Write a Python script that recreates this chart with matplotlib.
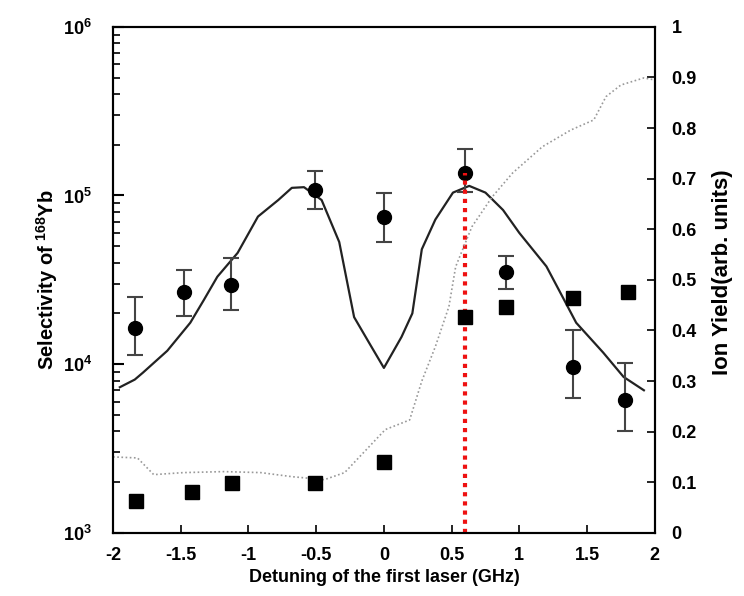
import numpy as np
import matplotlib
matplotlib.use("Agg")
import matplotlib.pyplot as plt
from matplotlib.ticker import FixedLocator, FuncFormatter, LogLocator, NullFormatter

plt.rcParams["font.family"] = ["Liberation Sans", "DejaVu Sans"]
plt.rcParams["font.weight"] = "bold"
plt.rcParams["mathtext.fontset"] = "custom"
plt.rcParams["mathtext.rm"] = "Liberation Sans:bold"
plt.rcParams["mathtext.bf"] = "Liberation Sans:bold"

# measured selectivity (circles, left axis)
sel_x = [-1.84, -1.48, -1.13, -0.51, 0.0, 0.6, 0.9, 1.4, 1.78]
sel_y = [1.64e4, 2.68e4, 2.95e4, 1.08e5, 7.5e4, 1.36e5, 3.5e4, 9.6e3, 6.1e3]
sel_hi = [2.5e4, 3.6e4, 4.27e4, 1.4e5, 1.03e5, 1.89e5, 4.4e4, 1.6e4, 1.02e4]
sel_lo = [1.13e4, 1.93e4, 2.1e4, 8.3e4, 5.3e4, 1.05e5, 2.8e4, 6.3e3, 4.0e3]

# calculated selectivity (solid line, left axis)
calc_x = [-1.95, -1.84, -1.78, -1.60, -1.43, -1.33, -1.23, -1.08, -0.93, -0.78,
          -0.68, -0.59, -0.46, -0.33, -0.22, -0.10, 0.0, 0.13, 0.21, 0.28,
          0.38, 0.51, 0.63, 0.75, 0.88, 1.0, 1.2, 1.32, 1.42, 1.62, 1.77, 1.92]
calc_y = [7.3e3, 8.1e3, 8.9e3, 1.2e4, 1.76e4, 2.4e4, 3.3e4, 4.57e4, 7.5e4, 9.4e4,
          1.11e5, 1.12e5, 9.4e4, 5.3e4, 1.9e4, 1.3e4, 9.5e3, 1.45e4, 2.0e4, 4.8e4,
          7.2e4, 1.04e5, 1.14e5, 1.04e5, 8.2e4, 6.0e4, 3.8e4, 2.5e4, 1.76e4, 1.17e4,
          8.4e3, 7.0e3]

# measured ion yield (squares, right axis)
ion_x = [-1.83, -1.42, -1.12, -0.51, 0.0, 0.6, 0.9, 1.4, 1.8]
ion_y = [0.063, 0.081, 0.099, 0.099, 0.140, 0.427, 0.447, 0.464, 0.476]

# calculated ion yield (dotted line, right axis)
yld_x = [-2.0, -1.82, -1.70, -1.48, -1.18, -0.91, -0.68, -0.44, -0.29, -0.11,
         0.01, 0.19, 0.28, 0.38, 0.48, 0.53, 0.65, 0.80, 0.95, 1.17,
         1.38, 1.55, 1.64, 1.75, 1.92, 2.0]
yld_y = [0.150, 0.148, 0.115, 0.119, 0.121, 0.119, 0.111, 0.105, 0.119, 0.170,
         0.204, 0.223, 0.300, 0.368, 0.447, 0.526, 0.605, 0.664, 0.711, 0.763,
         0.796, 0.816, 0.862, 0.885, 0.899, 0.895]

peak_x = 0.6

fig = plt.figure(figsize=(7.44, 5.96), dpi=100)
ax = fig.add_axes([0.152, 0.106, 0.728, 0.849])
ax2 = ax.twinx()

ax.set_yscale("log")
ax.set_xlim(-2, 2)
ax.set_ylim(1e3, 1e6)
ax2.set_ylim(0, 1)

ax.plot(calc_x, calc_y, color="#222222", lw=1.6, zorder=3)
err = [np.array(sel_y) - np.array(sel_lo), np.array(sel_hi) - np.array(sel_y)]
ax.errorbar(sel_x, sel_y, yerr=err, fmt="o", color="black", ms=10,
            ecolor="#444444", elinewidth=1.5, capsize=6, capthick=1.5, zorder=4)
ax.plot([peak_x, peak_x], [1e3, sel_y[5]], color="#ee1111", lw=3,
        linestyle=(0, (1, 1.2)), zorder=5)

ax2.plot(yld_x, yld_y, color="#999999", lw=1.2, linestyle=(0, (1, 1.5)))
ax2.plot(ion_x, ion_y, "s", color="black", ms=10)

ax.set_xticks([-2, -1.5, -1, -0.5, 0, 0.5, 1, 1.5, 2])
ax.xaxis.set_major_formatter(FuncFormatter(lambda v, p: "%g" % v))
ax.yaxis.set_major_locator(FixedLocator([1e3, 1e4, 1e5, 1e6]))
ax.yaxis.set_major_formatter(FuncFormatter(lambda v, p: r"$10^{%d}$" % round(np.log10(v))))
ax.yaxis.set_minor_locator(LogLocator(base=10, subs=np.arange(2, 10)))
ax.yaxis.set_minor_formatter(NullFormatter())
ax2.set_yticks(np.round(np.arange(0, 1.01, 0.1), 1))
ax2.yaxis.set_major_formatter(FuncFormatter(lambda v, p: "%g" % v))

ax.tick_params(axis="both", which="both", direction="in", labelsize=13, top=False)
ax.tick_params(axis="y", which="major", length=8, width=1.5, pad=15)
ax.tick_params(axis="y", which="minor", length=5, width=1.2)
ax.tick_params(axis="x", length=6, width=1.2, pad=10)
ax2.tick_params(axis="y", direction="in", length=6, width=1.2, labelsize=13, pad=12)

for a in (ax, ax2):
    for s in a.spines.values():
        s.set_linewidth(1.5)

ax.set_xlabel("Detuning of the first laser (GHz)", fontsize=13, fontweight="bold")
ax.set_ylabel(r"Selectivity of $^{168}$Yb", fontsize=14.5, fontweight="bold", labelpad=2)
ax2.set_ylabel("Ion Yield(arb. units)", fontsize=16, fontweight="bold", labelpad=8)
ax2.yaxis.set_label_coords(1.105, 0.515)

fig.savefig("out.png", dpi=100)
